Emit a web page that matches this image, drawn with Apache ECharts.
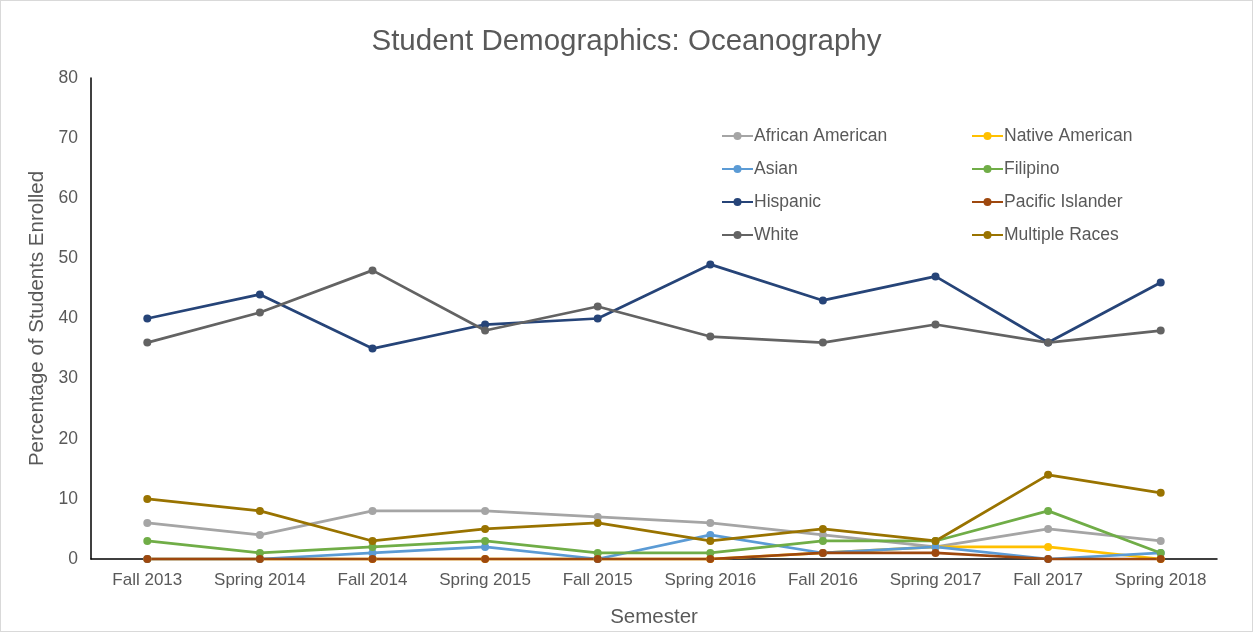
<!DOCTYPE html>
<html>
<head>
<meta charset="utf-8">
<script src="https://cdn.jsdelivr.net/npm/echarts@6/dist/echarts.min.js"></script>
<style>
  html, body { margin: 0; padding: 0; background: #fff; }
  #main { width: 1251px; height: 630px; border: 1px solid #d9d9d9; }
</style>
</head>
<body>
<div id="main"></div>
<script>
// semesters on the x axis
var semesters = ['Fall 2013', 'Spring 2014', 'Fall 2014', 'Spring 2015', 'Fall 2015',
                 'Spring 2016', 'Fall 2016', 'Spring 2017', 'Fall 2017', 'Spring 2018'];

// percentage of students enrolled
var africanAmerican = [6, 4, 8, 8, 7, 6, 4, 2, 5, 3];
var nativeAmerican  = [0, 0, 0, 0, 0, 0, 1, 2, 2, 0];
var asian           = [0, 0, 1, 2, 0, 4, 1, 2, 0, 1];
var filipino        = [3, 1, 2, 3, 1, 1, 3, 3, 8, 1];
var hispanic        = [40, 44, 35, 39, 40, 49, 43, 47, 36, 46];
var pacificIslander = [0, 0, 0, 0, 0, 0, 1, 1, 0, 0];
var white           = [36, 41, 48, 38, 42, 37, 36, 39, 36, 38];
var multipleRaces   = [10, 8, 3, 5, 6, 3, 5, 3, 14, 11];

var yTicks = { min: 0, max: 80, interval: 10 };

var textColor = '#595959';
var fontFam = '"Liberation Sans", Arial, sans-serif';

function line(name, data, color) {
    return {
        name: name,
        type: 'line',
        data: data,
        symbol: 'circle',
        symbolSize: 8,
        lineStyle: { width: 2.75, color: color },
        itemStyle: { color: color },
        emphasis: { disabled: true },
        animation: false
    };
}

function legendCol(names, left) {
    return {
        data: names,
        orient: 'vertical',
        left: left,
        top: 126,
        padding: 0,
        itemWidth: 31,
        itemHeight: 10,
        itemGap: 15,
        textStyle: { color: textColor, fontSize: 17.5, lineHeight: 18, fontFamily: fontFam, padding: [0, 0, 0, -4] }
    };
}

var myChart = echarts.init(document.getElementById('main'));
var option = {
    textStyle: { fontFamily: fontFam },
    title: {
        text: 'Student Demographics: Oceanography',
        left: 'center',
        top: 21,
        textStyle: { color: textColor, fontSize: 29.5, fontWeight: 'normal', fontFamily: fontFam }
    },
    legend: [
        legendCol(['African American', 'Asian', 'Hispanic', 'White'], 720),
        legendCol(['Native American', 'Filipino', 'Pacific Islander', 'Multiple Races'], 970)
    ],
    grid: { left: 90, right: 35, top: 77, bottom: 72, containLabel: false, outerBoundsMode: 'none' },
    xAxis: {
        type: 'category',
        data: semesters,
        boundaryGap: true,
        name: 'Semester',
        nameLocation: 'middle',
        nameGap: 48,
        nameTextStyle: { color: textColor, fontSize: 20.5, fontFamily: fontFam },
        axisLine: { lineStyle: { color: '#000', width: 1.5 } },
        axisTick: { show: false },
        axisLabel: { interval: 0, color: textColor, fontSize: 17, margin: 13, fontFamily: fontFam },
        splitLine: { show: false }
    },
    yAxis: {
        type: 'value',
        min: yTicks.min,
        max: yTicks.max,
        interval: yTicks.interval,
        name: 'Percentage of Students Enrolled',
        nameLocation: 'middle',
        nameGap: 37,
        nameTextStyle: { color: textColor, fontSize: 20.5, fontFamily: fontFam },
        axisLine: { show: true, lineStyle: { color: '#000', width: 1.5 } },
        axisTick: { show: false },
        axisLabel: { color: textColor, fontSize: 17.5, margin: 13, fontFamily: fontFam },
        splitLine: { show: false }
    },
    series: [
        line('African American', africanAmerican, '#A5A5A5'),
        line('Native American', nativeAmerican, '#FFC000'),
        line('Asian', asian, '#5B9BD5'),
        line('Filipino', filipino, '#70AD47'),
        line('Hispanic', hispanic, '#264478'),
        line('Pacific Islander', pacificIslander, '#9E480E'),
        line('White', white, '#636363'),
        line('Multiple Races', multipleRaces, '#997300')
    ]
};
myChart.setOption(option);
</script>
</body>
</html>
